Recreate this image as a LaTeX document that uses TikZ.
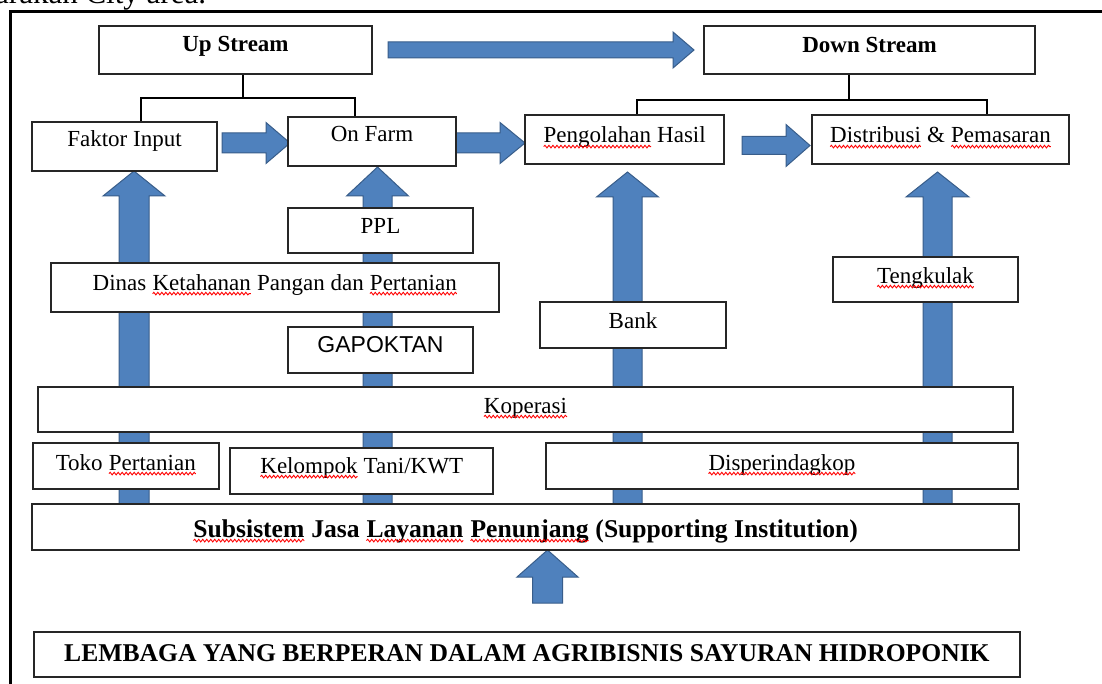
\documentclass[tikz,border=0pt]{standalone}
\usepackage{fontspec}
\setmainfont{Liberation Serif}
\newfontfamily\arialf{Liberation Sans}
\usetikzlibrary{fit,calc,decorations.pathmorphing}
\definecolor{blkfill}{RGB}{79,129,189}
\definecolor{blkline}{RGB}{56,93,138}
\newcommand\sq[1]{\tikz[baseline=(w.base),x=1pt,y=1pt]{\node[inner sep=0pt,outer sep=0pt,anchor=base] (w) at (0,0) {#1};
  \draw[red, line width=0.45pt, decorate, decoration={snake, amplitude=0.65pt, segment length=2pt}] ([yshift=-1.8pt]w.base west) -- ([yshift=-1.8pt]w.base east);}}
\tikzset{
  box/.style={draw=black!85, line width=0.8pt, fill=white, inner sep=0pt},
  txt/.style={inner sep=0pt, font=\fontsize{11.5}{13}\selectfont},
  bigtxt/.style={inner sep=0pt, font=\fontsize{12.8}{14}\selectfont\bfseries},
  brk/.style={draw=black, line width=1.2pt},
  blk/.style={fill=blkfill, draw=blkline, line width=0.5pt, line join=miter},
}
% name, x1, y1, x2, y2, baseline, text style, text
\newcommand\bx[8]{%
  \node[box, fit={(#2,#3) (#4,#5)}] (#1) {};
  \node[#7, anchor=base] (#1t) at ({(#2+#4)/2},#6) {#8};
}
% cx, tip y, head-base y, bottom y, shaft half, head half
\newcommand\uparr[6]{%
  \filldraw[blk] (#1-#6,#3) -- (#1,#2) -- (#1+#6,#3) -- (#1+#5,#3) -- (#1+#5,#4) -- (#1-#5,#4) -- (#1-#5,#3) -- cycle;}
% cy, tip x, head-base x, start x, shaft half, head half
\newcommand\rarr[6]{%
  \filldraw[blk] (#4,#1-#5) -- (#3,#1-#5) -- (#3,#1-#6) -- (#2,#1) -- (#3,#1+#6) -- (#3,#1+#5) -- (#4,#1+#5) -- cycle;}
\begin{document}
\begin{tikzpicture}[x=0.5pt,y=-0.5pt]
\useasboundingbox (0,0) rectangle (1102,684);
\clip (0,0) rectangle (1102,684);
\fill[white] (0,0) rectangle (1102,684);
% cut caption line from the page above
\node[anchor=base west, inner sep=0pt, font=\fontsize{15.5}{17}\selectfont] (cap) at (-22,4) {Tarakan City area.};
% outer frame
\draw[line width=1.2pt] (10.5,720) -- (10.5,11.5) -- (1130,11.5);
% vertical block arrows
\uparr{134}{171}{196}{505}{15}{31}
\uparr{377.5}{167}{196}{505}{14.5}{31}
\uparr{627.5}{172}{197}{505}{14.5}{31}
\uparr{937.5}{172}{197}{505}{14.5}{31.5}
\uparr{547.5}{550}{577}{603}{15}{30.5}
% horizontal block arrows
\rarr{50}{694}{673}{388}{8}{18}
\rarr{143}{290}{266}{222}{10}{20.5}
\rarr{143}{525}{500}{456}{10}{20.5}
\rarr{145.5}{810}{786}{742}{9}{21}
% boxes
\bx{up}{99}{26}{372}{74}{52}{txt}{\textbf{Up Stream}}
\bx{dn}{704}{26}{1035}{74}{53}{txt}{\textbf{Down Stream}}
\bx{fi}{32}{122}{217}{171}{147}{txt}{Faktor Input}
\bx{of}{288}{117}{456}{166}{142}{txt}{On Farm}
\bx{ph}{525}{115}{724}{164}{143}{txt}{\sq{Pengolahan} Hasil}
\bx{dp}{812}{115}{1069}{164}{143}{txt}{\sq{Distribusi} \& \sq{Pemasaran}}
\bx{ppl}{288}{208}{473}{253}{234}{txt}{PPL}
\bx{din}{51}{263}{499}{312}{290}{txt}{Dinas \sq{Ketahanan} Pangan dan \sq{Pertanian}}
\bx{gap}{288}{327}{473}{373}{352}{txt}{{\arialf GAPOKTAN}}
\bx{tgk}{833}{257}{1018}{302}{283}{txt}{\sq{Tengkulak}}
\bx{bank}{540}{302}{726}{348}{328}{txt}{Bank}
\bx{kop}{38}{387}{1013}{432}{413}{txt}{\sq{Koperasi}}
\bx{toko}{33}{443}{219}{489}{470}{txt}{Toko \sq{Pertanian}}
\bx{kel}{230}{448}{493}{494}{473}{txt}{\sq{Kelompok} Tani/KWT}
\bx{dis}{546}{443}{1018}{489}{470}{txt}{\sq{Disperindagkop}}
\bx{sub}{32}{504}{1019}{550}{537}{bigtxt}{\sq{Subsistem} Jasa \sq{Layanan} \sq{Penunjang} (Supporting Institution)}
\bx{lem}{34}{632}{1020}{677}{661}{bigtxt}{LEMBAGA YANG BERPERAN DALAM AGRIBISNIS SAYURAN HIDROPONIK}
% brackets
\coordinate (ubL) at (141,98);
\coordinate (ubM) at (243,98);
\coordinate (ubR) at (355,98);
\draw[brk] (ubM |- up.south) -- (ubM);
\draw[brk] (ubL |- fi.north) -- (ubL) -- (ubR) -- (ubR |- of.north);
\coordinate (dbL) at (637,100);
\coordinate (dbM) at (849,100);
\coordinate (dbR) at (987,100);
\draw[brk] (dbM |- dn.south) -- (dbM);
\draw[brk] (dbL |- ph.north) -- (dbL) -- (dbR) -- (dbR |- dp.north);
\end{tikzpicture}
\end{document}
